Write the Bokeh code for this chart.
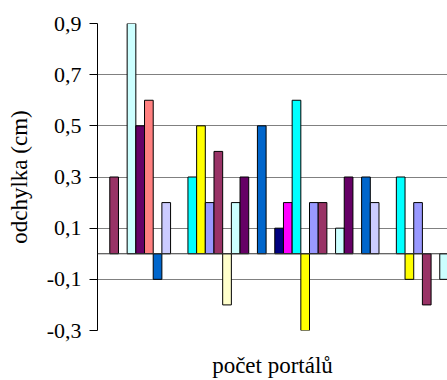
from bokeh.plotting import figure
from bokeh.models import ColumnDataSource, FixedTicker, Span
from bokeh.embed import file_html
from bokeh.resources import INLINE

# Deviation of each measurement (cm), one bar per measurement, in order
deviations = [
    0.0, 0.3, 0.0, 0.9, 0.5, 0.6, -0.1, 0.2, 0.0, 0.0,
    0.3, 0.5, 0.2, 0.4, -0.2, 0.2, 0.3, 0.0, 0.5, 0.0,
    0.1, 0.2, 0.6, -0.3, 0.2, 0.2, 0.0, 0.1, 0.3, 0.0,
    0.3, 0.2, 0.0, 0.0, 0.3, -0.1, 0.2, -0.2, 0.0, -0.1,
]

# Colours cycle point by point
palette = [
    "#9999FF", "#993366", "#FFFFCC", "#CCFFFF", "#660066", "#FF8080",
    "#0066CC", "#CCCCFF", "#000080", "#FF00FF", "#00FFFF", "#FFFF00",
]

y_ticks = [-0.3, -0.1, 0.1, 0.3, 0.5, 0.7, 0.9]
y_tick_labels = ["-0,3", "-0,1", "0,1", "0,3", "0,5", "0,7", "0,9"]

x_title = "počet portálů"
y_title = "odchylka (cm)"

# bars with zero deviation are not drawn
xs, tops, colors = [], [], []
for i, v in enumerate(deviations):
    if v != 0:
        xs.append(i + 0.5)
        tops.append(v)
        colors.append(palette[i % len(palette)])

src = ColumnDataSource(dict(x=xs, top=tops, color=colors))

p = figure(
    width=447, height=380,
    x_range=(-0.415, 39.89), y_range=(-0.3, 0.9),
    output_backend="svg", toolbar_location=None,
    min_border_left=97, min_border_right=0,
    min_border_top=23, min_border_bottom=49,
)
p.outline_line_color = None
p.background_fill_color = "white"

p.vbar(x="x", top="top", bottom=0, width=1.0, source=src,
       fill_color="color", line_color="black", line_width=1)

# zero line acting as the category axis
p.add_layout(Span(location=0, dimension="width", line_color="#333333", line_width=1))

serif = "Liberation Serif"

p.xgrid.grid_line_color = None
p.ygrid.grid_line_color = "#808080"
p.ygrid.grid_line_width = 1

p.yaxis.ticker = FixedTicker(ticks=y_ticks)
p.yaxis.major_label_overrides = {t: s for t, s in zip(y_ticks, y_tick_labels)}
p.yaxis.major_label_text_font = serif
p.yaxis.major_label_text_font_size = "22px"
p.yaxis.major_label_text_color = "black"
p.yaxis.major_tick_out = 8
p.yaxis.major_tick_in = 0
p.yaxis.minor_tick_line_color = None
p.yaxis.axis_line_color = "black"
p.yaxis.major_tick_line_color = "black"
p.yaxis.major_label_standoff = 8
p.yaxis.axis_label = y_title
p.yaxis.axis_label_text_font = serif
p.yaxis.axis_label_text_font_size = "23px"
p.yaxis.axis_label_text_font_style = "normal"
p.yaxis.axis_label_text_color = "black"
p.yaxis.axis_label_standoff = 12

# bottom axis carries only its title
p.xaxis.ticker = FixedTicker(ticks=[])
p.xaxis.axis_label = x_title
p.xaxis.axis_label_text_font = serif
p.xaxis.axis_label_text_font_size = "23px"
p.xaxis.axis_label_text_font_style = "normal"
p.xaxis.axis_label_text_color = "black"
p.xaxis.axis_line_color = None
p.xaxis.major_tick_line_color = None
p.xaxis.minor_tick_line_color = None
p.xaxis.axis_label_standoff = 22

open("out.html", "w").write(file_html(p, INLINE))
